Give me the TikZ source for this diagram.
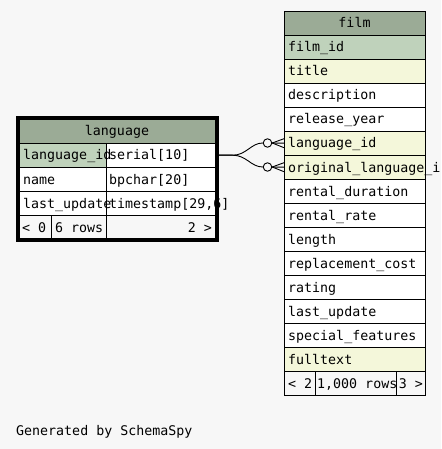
\documentclass[tikz,border=0pt]{standalone}
\usepackage{fontspec}
\setmonofont{DejaVu Sans Mono}
\usetikzlibrary{fit}
\definecolor{bg}{HTML}{F7F7F7}
\definecolor{hdr}{HTML}{9BAB96}
\definecolor{pk}{HTML}{BFD2BB}
\definecolor{ix}{HTML}{F4F7DA}
\begin{document}
\begin{tikzpicture}[x=1pt,y=-1pt,
  cellbox/.style={rectangle, inner sep=0pt, anchor=north west, minimum height=24pt},
  txt/.style={inner sep=0pt, font=\ttfamily\fontsize{13.3}{16}\selectfont, text=black},
  bord/.style={draw=black, line width=0.9pt},
  conn/.style={draw=black, line width=0.9pt},
  ring/.style={circle, draw=black, line width=0.9pt, fill=bg, inner sep=0pt, minimum size=8.5pt}]
\useasboundingbox[fill=bg] (0,0) rectangle (441,449);

% ---------- film table ----------
\node[cellbox, fill=hdr, minimum width=141pt] (film-h) at (284,11) {};
\foreach \t/\c [count=\i] in {film\_id/pk, title/ix, description/white, release\_year/white,
  language\_id/ix, original\_language\_i/ix, rental\_duration/white, rental\_rate/white,
  length/white, replacement\_cost/white, rating/white, last\_update/white,
  special\_features/white, fulltext/ix}{
  \node[cellbox, fill=\c, minimum width=141pt] (film-r\i) at (284,{35+24*(\i-1)}) {};
  \node[txt, anchor=base west] (film-t\i) at (288,{52+24*(\i-1)}) {\t};
}
\node[cellbox, minimum width=31pt] (film-f1) at (284,371) {};
\node[cellbox, minimum width=81pt] (film-f2) at (315,371) {};
\node[cellbox, minimum width=29pt] (film-f3) at (396,371) {};
\node[txt, anchor=base] (film-ht) at (354.5,28) {film};
\node[txt, anchor=base west] (film-ft1) at (288,388) {< 2};
\node[txt, anchor=base west] (film-ft2) at (317,388) {1,000 rows};
\node[txt, anchor=base east] (film-ft3) at (423,388) {3 >};

% ---------- language table ----------
\node[cellbox, fill=hdr, minimum width=196pt] (lang-h) at (19,119) {};
\node[cellbox, fill=pk, minimum width=87pt] (lang-r1a) at (19,143) {};
\node[cellbox, fill=white, minimum width=109pt] (lang-r1b) at (106,143) {};
\node[cellbox, fill=white, minimum width=87pt] (lang-r2a) at (19,167) {};
\node[cellbox, fill=white, minimum width=109pt] (lang-r2b) at (106,167) {};
\node[cellbox, fill=white, minimum width=87pt] (lang-r3a) at (19,191) {};
\node[cellbox, fill=white, minimum width=109pt] (lang-r3b) at (106,191) {};
\node[cellbox, minimum width=32pt, minimum height=23pt] (lang-f1) at (19,215) {};
\node[cellbox, minimum width=55pt, minimum height=23pt] (lang-f2) at (51,215) {};
\node[cellbox, minimum width=109pt, minimum height=23pt] (lang-f3) at (106,215) {};

\node[txt, anchor=base] (lang-ht) at (117,136) {language};
\node[txt, anchor=base west] (lang-t1a) at (23,160) {language\_id};
\node[txt, anchor=base west] (lang-t1b) at (109,160) {serial[10]};
\node[txt, anchor=base west] (lang-t2a) at (23,184) {name};
\node[txt, anchor=base west] (lang-t2b) at (109,184) {bpchar[20]};
\node[txt, anchor=base west] (lang-t3a) at (23,208) {last\_update};
\node[txt, anchor=base west] (lang-t3b) at (109,208) {timestamp[29,6]};
\node[txt, anchor=base west] (lang-ft1) at (22,232) {< 0};
\node[txt, anchor=base west] (lang-ft2) at (55,232) {6 rows};
\node[txt, anchor=base east] (lang-ft3) at (212,232) {2 >};

% ---------- borders ----------
\foreach \n in {film-h,film-r1,film-r2,film-r3,film-r4,film-r5,film-r6,film-r7,film-r8,
  film-r9,film-r10,film-r11,film-r12,film-r13,film-r14,film-f1,film-f2,film-f3,
  lang-h,lang-r1a,lang-r1b,lang-r2a,lang-r2b,lang-r3a,lang-r3b,lang-f1,lang-f2,lang-f3}{
  \draw[bord] (\n.north west) rectangle (\n.south east);
}
\node[draw=black, line width=3.5pt, inner sep=1.5pt, fit=(lang-h)(lang-f3)] (lang-frame) {};

% ---------- connectors ----------
\node[ring] (c1) at (267.5,143) {};
\node[ring] (c2) at (267.5,167) {};
\draw[conn] (lang-frame.east |- lang-r1b.east) -- ++(14,0) .. controls +(14,0) and +(-12,0) .. (c1.west);
\draw[conn] (lang-frame.east |- lang-r1b.east) -- ++(14,0) .. controls +(14,0) and +(-12,0) .. (c2.west);
\draw[conn] (c1.east) -- ([yshift=4.5pt]film-r5.west);
\draw[conn] (c1.east) -- (film-r5.west);
\draw[conn] (c1.east) -- ([yshift=-4.5pt]film-r5.west);
\draw[conn] (c2.east) -- ([yshift=4.5pt]film-r6.west);
\draw[conn] (c2.east) -- (film-r6.west);
\draw[conn] (c2.east) -- ([yshift=-4.5pt]film-r6.west);

\node[txt, anchor=base west] (gen) at (16,435) {Generated by SchemaSpy};
\end{tikzpicture}
\end{document}
